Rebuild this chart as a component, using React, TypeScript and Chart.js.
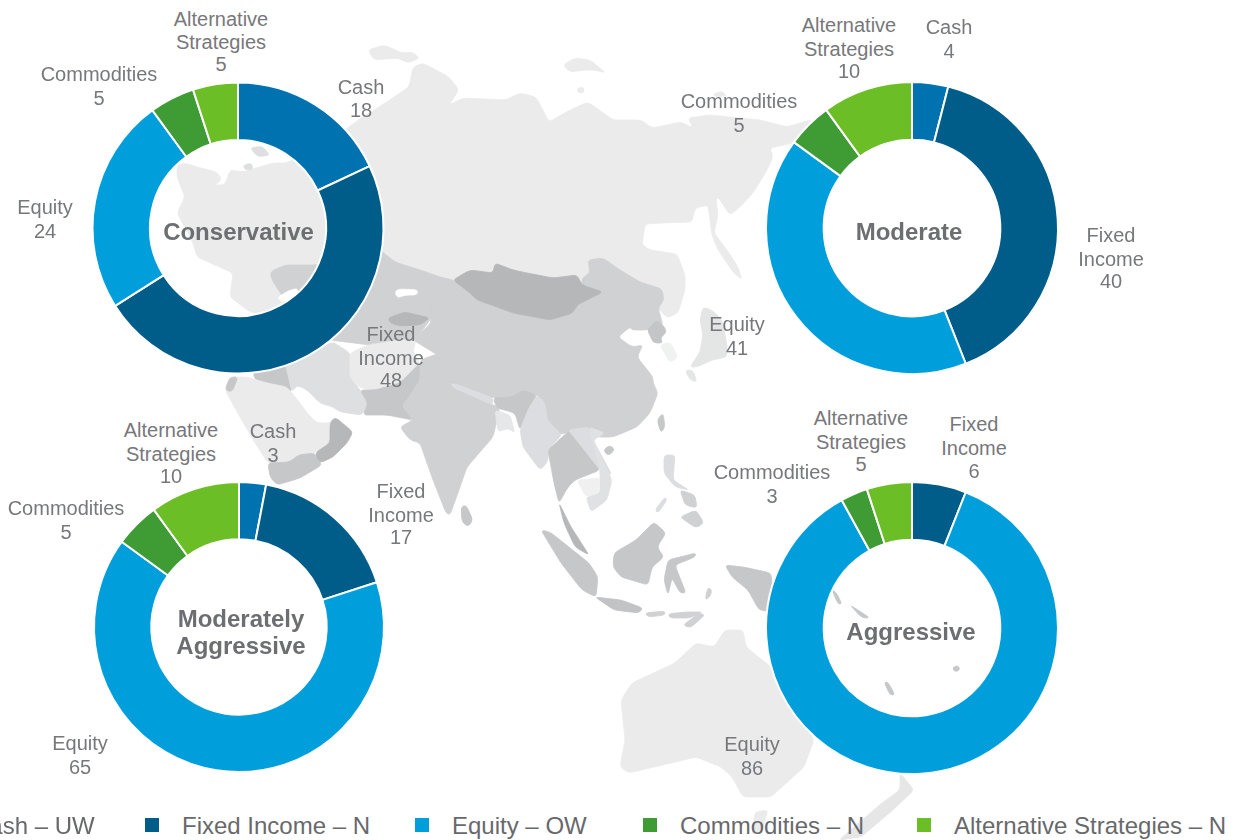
import React, { useEffect, useRef } from "react";
import { Chart, registerables } from "chart.js";

Chart.register(...registerables);

const categories = ["Cash", "Fixed Income", "Equity", "Commodities", "Alternative Strategies"];
const legendLabels = ["Cash – UW", "Fixed Income – N", "Equity – OW", "Commodities – N", "Alternative Strategies – N"];
const conservativeValues = [18, 48, 24, 5, 5];
const moderateValues = [4, 40, 41, 5, 10];
const moderatelyAggressiveValues = [3, 17, 65, 5, 10];
const aggressiveValues = [0, 6, 86, 3, 5];
const sliceColors = ["#0072b0", "#005d89", "#009fdb", "#3f9c35", "#6cbe27"];

const FONT = '"Liberation Sans", Arial, sans-serif';
const TEXT = "#77787b";
const TITLE = "#6d6e71";
const LEGEND_TEXT = "#68696c";
const wrapped: Record<string, string[]> = {
  "Fixed Income": ["Fixed", "Income"],
  "Alternative Strategies": ["Alternative", "Strategies"],
};

// Layout of each doughnut and of its outside labels: [category index, centre x, line centre ys]
const donuts = [
  {
    values: conservativeValues, title: ["Conservative"], cx: 238, cy: 228, pad: 3.5, titleYs: [232], titleX: 238.5,
    labels: [[4, 221, [19, 42, 64]], [3, 99, [74, 98]], [0, 361, [87, 110]], [2, 45, [207, 231]], [1, 391, [334, 358, 380]]],
  },
  {
    values: moderateValues, title: ["Moderate"], cx: 911.5, cy: 228, pad: 3, titleYs: [232], titleX: 909,
    labels: [[4, 849, [25, 49, 71]], [0, 949, [27, 51]], [3, 739, [101, 125]], [1, 1111, [235, 259, 281]], [2, 737, [324, 348]]],
  },
  {
    values: moderatelyAggressiveValues, title: ["Moderately", "Aggressive"], cx: 239, cy: 627, pad: 4, titleYs: [619, 646], titleX: 241,
    labels: [[4, 171, [430, 454, 476]], [0, 273, [431, 455]], [3, 66, [508, 532]], [1, 401, [491, 515, 537]], [2, 80, [743, 767]]],
  },
  {
    values: aggressiveValues, title: ["Aggressive"], cx: 911.5, cy: 627.5, pad: 3, titleYs: [632], titleX: 911,
    labels: [[4, 861, [418, 442, 464]], [1, 974, [424, 448, 471]], [3, 772, [472, 496]], [2, 752, [744, 768]]],
  },
] as const;

const legendX = [-65, 145, 415, 643, 917];

// Decorative background map (not chart data)
const L0 = "#ebebeb", L1 = "#dedfe0", M = "#d0d1d3", D = "#c6c7c9", X = "#b6b7b9";
const mapShapes: [string, string][] = [
  [L0, "177,165 185,163 197,167 217,172 222,180 207,190 200,185 225,185 230,170 243,172 273,163 287,163 330,140 345,130 361,118 370,113 409,87 413,67 423,63 449,77 459,90 449,105 463,98 506,100 520,93 536,97 549,122 570,110 588,102 613,120 641,120 652,128 681,122 693,128 688,118 710,115 760,120 787,127 810,120 840,125 850,150 793,143 770,148 773,157 767,170 753,193 740,207 730,215 718,197 716,200 718,215 714,233 727,250 738,267 742,280 733,272 718,250 712,235 708,205 695,208 692,222 660,223 645,224 642,245 650,250 677,254 685,275 685,290 678,313 667,318 658,308 640,300 600,280 500,300 400,300 345,330 250,312 230,297 233,273 197,257 193,243 177,213 185,197 177,177"],
  [L0, "368,50 384,45 402,53 412,52 420,58 408,63 398,58 374,60"],
  [L0, "563,65 575,58 590,60 600,68 606,73 595,70 585,70 570,72"],
  [L0, "577,88 584,87 584,93 578,93"],
  [L0, "713,94 722,91 727,96 716,97"],
  [L1, "250,148 262,146 270,155 258,157"],
  [L1, "243,165 252,163 253,170 245,170"],
  [M, "270,272 285,265 317,265 380,250 395,262 420,270 449,280 440,300 430,320 415,340 370,345 330,340 300,325 285,300 272,280"],
  ["#ffffff", "277,298 288,291 298,288 297,298 283,302"],
  ["#ffffff", "395,291 400,289 418,290 417,295 405,295 397,298"],
  [X, "388,318 405,312 430,318 420,325 400,326 390,323"],
  [D, "253,372 285,362 292,392 273,385 255,380"],
  [L1, "285,362 333,342 350,353 350,377 360,390 368,403 362,415 340,412 333,407 320,403 307,390 297,385 292,392"],
  [L0, "350,353 368,345 400,340 416,340 413,352 420,363 400,383 375,390 360,388 350,377"],
  [D, "360,390 375,390 400,383 420,363 422,363 420,380 407,400 402,405 413,420 387,415 363,415 368,403"],
  [L0, "225,390 230,377 247,377 267,383 287,387 300,403 307,413 317,423 330,423 335,417 330,430 330,443 315,453 297,455 290,462 268,463 255,443 240,417"],
  [D, "268,463 290,462 298,455 315,453 322,465 300,478 277,485 270,477"],
  [X, "330,423 335,417 353,432 347,443 333,457 320,463 315,453 330,443"],
  [D, "225,390 230,377 238,377 232,392"],
  [M, "420,360 440,353 452,387 493,405 500,407 493,437 467,467 460,487 450,515 446,513 433,480 420,443 410,440 400,427 413,420 402,405 407,400 420,380"],
  [D, "461,507 466,505 473,520 468,527 462,522"],
  [M, "431,297 440,277 453,280 470,293 477,300 497,307 513,313 550,320 573,313 577,305 603,292 582,285 582,278 590,273 588,260 603,258 620,270 640,282 662,289 664,300 658,308 663,325 647,330 632,330 630,327 618,337 632,347 643,345 637,357 653,377 653,383 658,393 650,413 637,427 613,437 597,437 583,427 568,432 560,435 547,420 545,403 537,395 523,390 512,397 493,398 453,385 440,373 438,363 441,357 413,340 431,323"],
  [X, "453,280 470,270 493,273 495,263 513,270 527,273 553,278 577,275 582,285 603,292 577,305 573,313 550,320 513,313 497,307 477,300 470,293"],
  ["#dcdde0", "452,387 493,405 493,398 453,383"],
  ["#e6e7e8", "495,410 510,415 515,433 508,428 498,432"],
  [D, "493,398 512,397 523,390 537,395 528,410 520,430 515,413 497,408"],
  ["#dcdde0", "520,430 528,410 537,395 545,403 547,420 562,435 550,447 547,463 540,470 523,447"],
  ["#c4c5c7", "647,330 657,320 663,325 667,332 660,338 663,343 653,343 650,335"],
  ["#f0f1f1", "660,345 670,342 678,357 670,363"],
  ["#e4e5e5", "703,307 712,310 722,320 727,345 727,357 712,360 697,367 690,367 700,352 703,335 700,320"],
  ["#e4e5e5", "685,370 693,370 697,382 690,380"],
  [D, "657,420 663,413 665,427 661,433"],
  [D, "603,450 610,445 615,450 608,456"],
  [D, "548,450 570,430 579,443 600,470 575,480 568,487 559,503 554,483"],
  ["#dcdde0", "568,430 589,427 593,440 612,475 600,470 579,443"],
  ["#e0e1e2", "589,427 605,433 593,440 612,480 607,500 591,512 586,497 600,493 600,470"],
  ["#f0f0f0", "577,480 600,478 598,493 586,497"],
  [X, "559,503 571,527 589,555 575,547 564,523"],
  ["#c6c7c9", "541,530 550,532 589,563 598,577 596,597 582,590 561,563"],
  ["#c2c3c5", "595,597 621,600 643,608 639,613 614,610"],
  ["#c6c7c9", "614,553 636,540 654,522 666,533 657,547 664,557 652,567 648,585 621,577 613,567"],
  ["#c6c7c9", "668,560 696,553 695,557 675,565 680,578 686,593 680,593 672,578 668,595 664,580"],
  ["#d0d1d3", "645,613 665,611 665,615 648,617"],
  ["#d0d1d3", "668,614 685,612 703,612 690,618 670,618"],
  ["#d0d1d3", "683,625 700,613 705,615 690,628"],
  ["#dcdde0", "664,455 675,455 673,480 689,490 675,487 664,473"],
  ["#d0d1d3", "680,490 695,495 697,508 685,505"],
  ["#d0d1d3", "680,517 696,510 704,523 696,528"],
  ["#dcdde0", "655,510 665,497 667,500 658,513"],
  ["#c6c7c9", "725,565 743,567 771,573 775,612 759,610 748,590 732,577"],
  ["#d0d1d3", "708,587 712,590 710,597 705,600"],
  [L0, "621,700 632,683 675,663 696,643 714,647 725,630 743,630 746,647 771,667 814,740 804,767 771,797 743,797 732,777 721,767 696,757 629,773 620,767 625,740"],
  [L0, "755,812 768,810 762,830 752,835"],
  ["#e6e6e6", "900,773 914,790 893,810 861,837 839,840 882,803 900,790"],
  [D, "832,590 836,592 842,604 838,604"],
  [D, "850,605 858,610 870,618 862,618"],
  [D, "884,682 888,682 895,695 890,695"],
  [D, "952,668 958,665 960,670 955,672"],
];

// Rounds only the tips of a decorative outline, so that neighbouring shapes still touch.
function roundedPath(points: string, radius = 4): string {
  const pts = points.split(" ").map((p) => p.split(",").map(Number));
  const toward = (a: number[], b: number[]) => {
    const len = Math.hypot(b[0] - a[0], b[1] - a[1]) || 1;
    const t = Math.min(radius, len / 2) / len;
    return [a[0] + (b[0] - a[0]) * t, a[1] + (b[1] - a[1]) * t];
  };
  let d = "";
  pts.forEach((p, i) => {
    const prev = pts[(i - 1 + pts.length) % pts.length];
    const next = pts[(i + 1) % pts.length];
    const a = toward(p, prev);
    const b = toward(p, next);
    d += `${i ? "L" : "M"}${a[0]} ${a[1]}Q${p[0]} ${p[1]} ${b[0]} ${b[1]}`;
  });
  return d + "Z";
}

function Donut({ values, cx, cy, pad }: { values: readonly number[]; cx: number; cy: number; pad: number }) {
  const ref = useRef<HTMLCanvasElement>(null);
  useEffect(() => {
    if (!ref.current) return;
    const chart = new Chart(ref.current, {
      type: "doughnut",
      data: {
        labels: categories,
        datasets: [{ data: [...values], backgroundColor: sliceColors, borderColor: "#ffffff", borderWidth: 2 }],
      },
      options: {
        animation: false,
        responsive: false,
        maintainAspectRatio: false,
        cutout: "60.5%",
        layout: { padding: pad },
        plugins: { legend: { display: false }, tooltip: { enabled: false } },
      },
    });
    return () => chart.destroy();
  }, [values, pad]);
  return (
    <canvas
      ref={ref}
      width={300}
      height={300}
      style={{ position: "absolute", left: cx - 150, top: cy - 150, width: 300, height: 300 }}
    />
  );
}

function Line({ x, y, text, bold, size }: { x: number; y: number; text: string; bold?: boolean; size: number }) {
  return (
    <div
      style={{
        position: "absolute", left: x, top: y, transform: "translate(-50%,-50%)", whiteSpace: "nowrap",
        font: `${bold ? "bold " : ""}${size}px ${FONT}`, color: bold ? TITLE : TEXT,
      }}
    >
      {text}
    </div>
  );
}

export default function App() {
  return (
    <div style={{ position: "absolute", left: 0, top: 0, width: 1239, height: 840, overflow: "hidden", background: "#fff" }}>
      <svg width={1239} height={840} style={{ position: "absolute", left: 0, top: 0 }}>
        {mapShapes.map(([fill, points], i) => (
          <path key={i} d={roundedPath(points)} fill={fill} stroke={fill} strokeWidth={0.8} strokeLinejoin="round" />
        ))}
      </svg>
      {donuts.map((d, i) => (
        <Donut key={i} values={d.values} cx={d.cx} cy={d.cy} pad={d.pad} />
      ))}
      {donuts.map((d, i) => (
        <React.Fragment key={i}>
          {d.title.map((t, j) => (
            <Line key={t} x={d.titleX} y={d.titleYs[j]} text={t} bold size={24} />
          ))}
          {d.labels.map(([cat, x, ys]) => {
            const name = categories[cat as number];
            const lines = [...(wrapped[name] ?? [name]), String(d.values[cat as number])];
            return lines.map((text, j) => (
              <Line key={`${cat}-${j}`} x={x as number} y={(ys as readonly number[])[j]} text={text} size={20} />
            ));
          })}
        </React.Fragment>
      ))}
      {legendLabels.map((label, i) => (
        <React.Fragment key={label}>
          <div style={{ position: "absolute", left: legendX[i], top: 818, width: 14, height: 14, background: sliceColors[i] }} />
          <div
            style={{
              position: "absolute", left: legendX[i] + 37, top: 826, transform: "translateY(-50%)", whiteSpace: "nowrap",
              font: `24px ${FONT}`, color: LEGEND_TEXT,
            }}
          >
            {label}
          </div>
        </React.Fragment>
      ))}
    </div>
  );
}
